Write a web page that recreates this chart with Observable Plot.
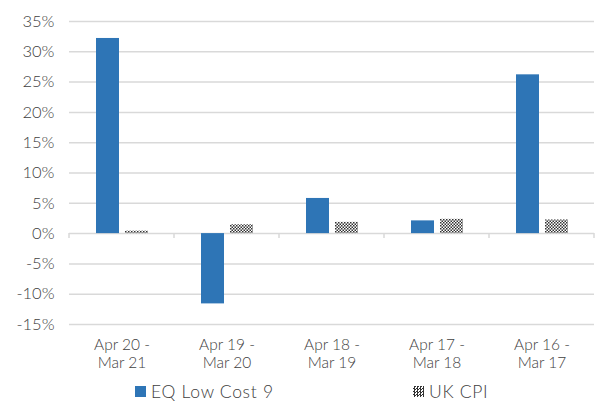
<!DOCTYPE html>
<html>
<head>
<meta charset="utf-8">
<script src="https://cdn.jsdelivr.net/npm/d3@7"></script>
<script src="https://cdn.jsdelivr.net/npm/@observablehq/plot@0.6"></script>
<style>
  body { margin: 0; background: #fff; font-family: Lato, "Open Sans", sans-serif; }
  #wrap { position: relative; width: 598px; height: 405px; }
  .leg { position: absolute; top: 381px; font-size: 17.5px; letter-spacing: 0.7px; color: #404040; display: flex; align-items: center; font-weight: 300; }
  .sw { width: 11px; height: 11px; margin-right: 5px; }
</style>
</head>
<body>
<div id="wrap"><div id="chart"></div>
  <div class="leg" style="left:135px"><div class="sw" style="background:#2E75B6"></div>EQ Low Cost 9</div>
  <div class="leg" style="left:413px"><div class="sw" style="background: repeating-conic-gradient(#333 0 25%, #fff 0 50%) 0 0 / 3px 3px;"></div>UK CPI</div>
</div>
<script>
const periods = ["Apr 20 - Mar 21", "Apr 19 - Mar 20", "Apr 18 - Mar 19", "Apr 17 - Mar 18", "Apr 16 - Mar 17"];
const periodLabels = ["Apr 20 -\nMar 21", "Apr 19 -\nMar 20", "Apr 18 -\nMar 19", "Apr 17 -\nMar 18", "Apr 16 -\nMar 17"];
const series = ["EQ Low Cost 9", "UK CPI"];
const eqValues = [32.2, -11.6, 5.8, 2.1, 26.2];
const cpiValues = [0.4, 1.45, 1.85, 2.35, 2.25];
const yTicks = [-15, -10, -5, 0, 5, 10, 15, 20, 25, 30, 35];

const data = [];
periods.forEach((p, i) => {
  data.push({period: p, series: series[0], value: eqValues[i]});
  data.push({period: p, series: series[1], value: cpiValues[i]});
});
const labelOf = new Map(periods.map((p, i) => [p, periodLabels[i]]));

const plot = Plot.plot({
  width: 598,
  height: 370,
  marginLeft: 67,
  marginRight: 3,
  marginTop: 21,
  marginBottom: 46,
  style: {fontFamily: "Lato, 'Open Sans', sans-serif", color: "#404040", background: "#fff", fontWeight: 300},
  fx: {domain: periods, padding: 0, label: null},
  x: {domain: series, paddingInner: 0.217, paddingOuter: 0.868, axis: null},
  y: {domain: [-15, 35], label: null},
  marks: [
    Plot.gridY(yTicks, {stroke: "#d9d9d9", strokeOpacity: 1, strokeWidth: 1.5}),
    Plot.barY(data, {fx: "period", x: "series", y: "value",
      fill: d => d.series === series[0] ? "#2E75B6" : "url(#checker)"}),
    Plot.axisY({ticks: yTicks, tickSize: 0, tickPadding: 15, tickFormat: d => d + "%", fontSize: 16.5, fill: "#404040", label: null}),
    Plot.axisFx({anchor: "bottom", tickSize: 0, tickPadding: 13, tickFormat: d => labelOf.get(d), fontSize: 15.5, fill: "#404040", lineHeight: 1.15, label: null})
  ]
});

const svg = plot.tagName === "svg" ? plot : plot.querySelector("svg");
const ns = "http://www.w3.org/2000/svg";
const defs = document.createElementNS(ns, "defs");
defs.innerHTML = `<pattern id="checker" width="3" height="3" patternUnits="userSpaceOnUse">
  <rect width="3" height="3" fill="#fff"/>
  <rect width="1.5" height="1.5" fill="#333"/>
  <rect x="1.5" y="1.5" width="1.5" height="1.5" fill="#333"/>
</pattern>`;
svg.insertBefore(defs, svg.firstChild);

// category boundary ticks on the zero line
const fx = plot.scale("fx");
const ys = plot.scale("y");
const y0 = ys.apply(0);
const g = document.createElementNS(ns, "g");
const edges = periods.map(p => fx.apply(p)).concat([fx.apply(periods[periods.length - 1]) + fx.bandwidth]);
edges.forEach(x => {
  const l = document.createElementNS(ns, "line");
  l.setAttribute("x1", x); l.setAttribute("x2", x);
  l.setAttribute("y1", y0); l.setAttribute("y2", y0 + 5);
  l.setAttribute("stroke", "#d9d9d9"); l.setAttribute("stroke-width", 1.5);
  g.appendChild(l);
});
svg.appendChild(g);

document.getElementById("chart").appendChild(plot);
</script>
</body>
</html>
